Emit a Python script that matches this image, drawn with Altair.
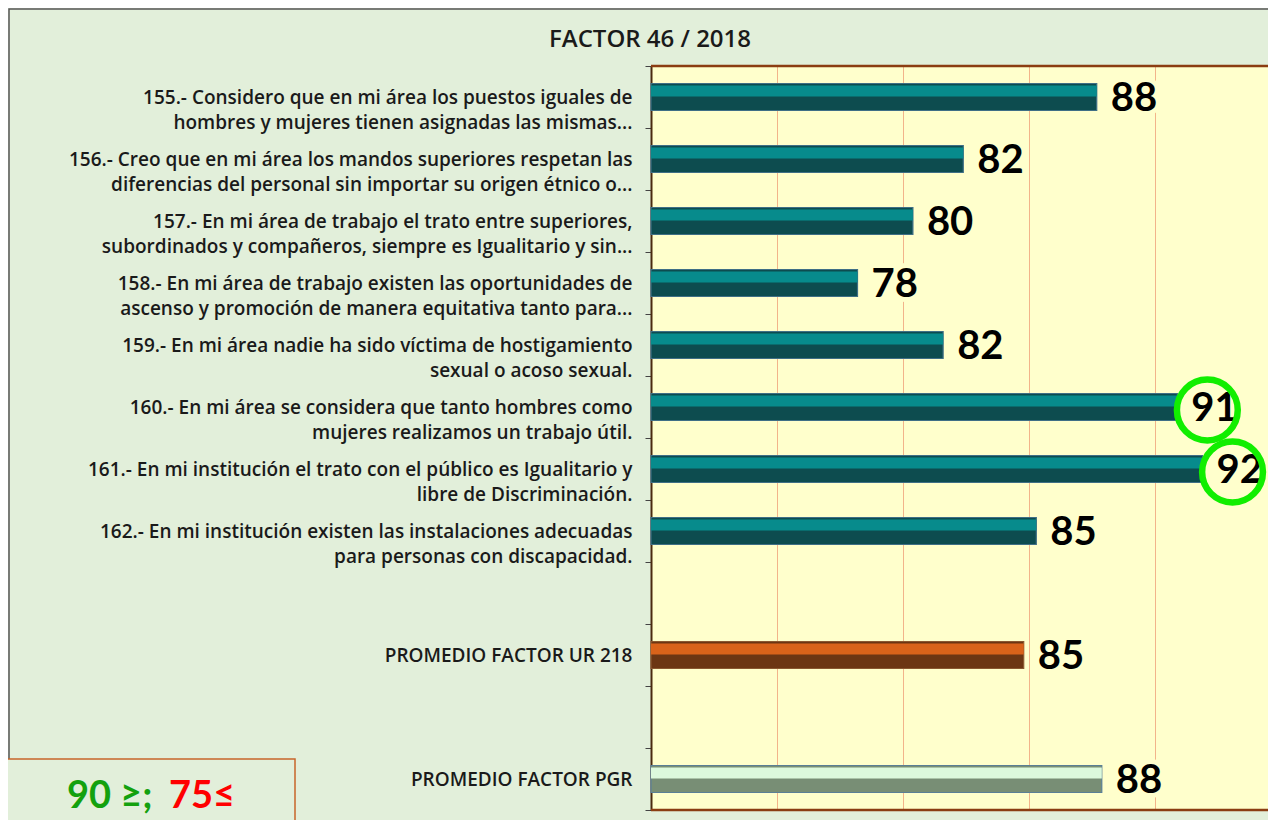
import altair as alt
import pandas as pd

# ---- data ----
questions = [
    "155.- Considero que en mi área los puestos iguales de|hombres y mujeres tienen asignadas las mismas...",
    "156.- Creo que en mi área los mandos superiores respetan las|diferencias del personal sin importar su origen étnico o...",
    "157.- En mi área de trabajo el trato entre superiores,|subordinados y compañeros, siempre es Igualitario y sin...",
    "158.- En mi área de trabajo existen las oportunidades de|ascenso y promoción de manera equitativa tanto para...",
    "159.- En mi área nadie ha sido víctima de hostigamiento|sexual o acoso sexual.",
    "160.- En mi área se considera que tanto hombres como|mujeres realizamos un trabajo útil.",
    "161.- En mi institución el trato con el público es Igualitario y|libre de Discriminación.",
    "162.- En mi institución existen las instalaciones adecuadas|para personas con discapacidad.",
]
question_values = [87.7, 82.4, 80.4, 78.2, 81.6, 90.9, 91.9, 85.3]
promedio_labels = ["PROMEDIO FACTOR UR 218", "PROMEDIO FACTOR PGR"]
promedio_values = [84.8, 87.9]
promedio_kinds = ["ur", "pgr"]
title_text = "FACTOR 46 / 2018"
note_green = "90 ≥;"
note_red = "75≤"
axis_min = 70

order = questions + [" ", promedio_labels[0], "  ", promedio_labels[1]]

rows = [{"label": q, "value": v, "kind": "q"} for q, v in zip(questions, question_values)]
rows += [{"label": l, "value": v, "kind": k} for l, v, k in zip(promedio_labels, promedio_values, promedio_kinds)]
df = pd.DataFrame(rows)

W, H = 617, 744
kinds = ["q", "ur", "pgr"]
dark = ["#0d4c4f", "#6c3613", "#788e75"]
light = ["#078b8c", "#d9631a", "#dcf9dc"]
edge = ["#3f6f86", "#8a5830", "#5a7f96"]

LABEL_FONT = "Open Sans"

x_enc = alt.X("value:Q", scale=alt.Scale(domain=[axis_min, 94.5], nice=False, zero=False),
              axis=alt.Axis(values=[75, 80, 85, 90], grid=True, labels=False, ticks=False,
                            domain=False, title=None, gridColor="#f2b48a", gridWidth=1))
y_enc = alt.Y("label:N", sort=order,
              scale=alt.Scale(domain=order, paddingInner=0, paddingOuter=0),
              axis=alt.Axis(title=None, labelExpr="split(datum.label, '|')",
                            tickBand="extent", tickSize=6, tickColor="#444444",
                            domainColor="#4a2a10", domainWidth=2,
                            labelPadding=13, labelLimit=700, labelFontSize=19,
                            labelFont=LABEL_FONT, labelFontWeight=600, labelColor="#1a1a1a",
                            labelLineHeight=25, labelAlign="right", labelBaseline="middle"))

base = alt.Chart(df).encode(x=x_enc, y=y_enc)

bar_dark = base.mark_bar(size=27, strokeWidth=1.2).encode(
    x2=alt.datum(axis_min),
    color=alt.Color("kind:N", scale=alt.Scale(domain=kinds, range=dark), legend=None),
    stroke=alt.Stroke("kind:N", scale=alt.Scale(domain=kinds, range=edge), legend=None),
)
bar_light = base.mark_bar(size=11, yOffset=-6).encode(
    x2=alt.datum(axis_min),
    fill=alt.Fill("kind:N", scale=alt.Scale(domain=kinds, range=light), legend=None),
)

halo = base.mark_text(align="left", baseline="middle", dx=14, dy=2, font="Lato",
                      fontWeight="bold", fontSize=40, stroke="#ffffcc", strokeWidth=10,
                      fill="#ffffcc").encode(text=alt.Text("value:Q", format=".0f"))
labels = base.mark_text(align="left", baseline="middle", dx=14, dy=2, font="Lato",
                        fontWeight="bold", fontSize=40, color="#000000").encode(
    text=alt.Text("value:Q", format=".0f"))

circles = base.transform_filter("datum.value >= 90").mark_point(
    shape="circle", size=3700, filled=False, stroke="#11ee00", strokeWidth=6.5,
    xOffset=30, yOffset=3, opacity=1)

one = alt.Data(values=[{}])
top_line = alt.Chart(one).mark_rule(color="#8b3d12", strokeWidth=2.5).encode(
    x=alt.value(0), x2=alt.value(W), y=alt.value(0))
bottom_line = alt.Chart(one).mark_rule(color="#8b3d12", strokeWidth=2.5).encode(
    x=alt.value(0), x2=alt.value(W), y=alt.value(H))

frame = alt.Chart(one).mark_rect(fill=None, stroke="#555555", strokeWidth=1.5).encode(
    x=alt.value(-642), x2=alt.value(700), y=alt.value(-57), y2=alt.value(800))

title = alt.Chart(one).mark_text(align="center", baseline="alphabetic", font=LABEL_FONT,
                                 fontWeight=600, fontSize=24, color="#1a1a1a").encode(
    x=alt.value(-1), y=alt.value(-19), text=alt.value(title_text))

note_box = alt.Chart(one).mark_rect(fill="#e2efda", stroke="#c8662a", strokeWidth=1.5).encode(
    x=alt.value(-644), x2=alt.value(-356), y=alt.value(693), y2=alt.value(800))
note_g = alt.Chart(one).mark_text(align="left", baseline="alphabetic", font="Lato",
                                  fontWeight="bold", fontSize=38, color="#13a10e").encode(
    x=alt.value(-584), y=alt.value(742), text=alt.value(note_green))
note_r = alt.Chart(one).mark_text(align="left", baseline="alphabetic", font="Lato",
                                  fontWeight="bold", fontSize=38, color="#ff0000").encode(
    x=alt.value(-482), y=alt.value(742), text=alt.value(note_red))

chart = alt.layer(
    bar_dark, bar_light, halo, labels, circles, top_line, bottom_line,
    frame, title, note_box, note_g, note_r,
).resolve_scale(color="independent", fill="independent", stroke="independent").properties(
    width=W, height=H,
    autosize=alt.AutoSizeParams(type="none"),
    padding={"left": 643, "top": 58, "right": 0, "bottom": 10},
    background="#e2efda",
).configure_view(fill="#ffffcc", stroke=None)

chart.save("out.html", embed_options={"renderer": "svg", "actions": False})
